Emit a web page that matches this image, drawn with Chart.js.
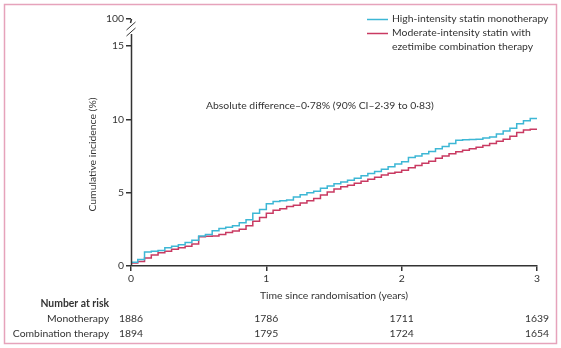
<!DOCTYPE html>
<html>
<head>
<meta charset="utf-8">
<script src="https://cdn.jsdelivr.net/npm/chart.js@4"></script>
<style>
  html, body { margin: 0; padding: 0; background: #fff; }
  #wrap { width: 561px; height: 348px; position: relative; }
</style>
</head>
<body>
<div id="wrap"><canvas id="km" width="561" height="348"></canvas></div>
<script>
// years since randomisation, sampled every 0.05
const years = [
  0.00, 0.05, 0.10, 0.15, 0.20, 0.25, 0.30, 0.35, 0.40, 0.45,
  0.50, 0.55, 0.60, 0.65, 0.70, 0.75, 0.80, 0.85, 0.90, 0.95,
  1.00, 1.05, 1.10, 1.15, 1.20, 1.25, 1.30, 1.35, 1.40, 1.45,
  1.50, 1.55, 1.60, 1.65, 1.70, 1.75, 1.80, 1.85, 1.90, 1.95,
  2.00, 2.05, 2.10, 2.15, 2.20, 2.25, 2.30, 2.35, 2.40, 2.45,
  2.50, 2.55, 2.60, 2.65, 2.70, 2.75, 2.80, 2.85, 2.90, 2.95, 3.00
];

// cumulative incidence (%)
const monoIncidence = [
  0.00, 0.25, 0.45, 0.95, 1.00, 1.05, 1.25, 1.35, 1.45, 1.60,
  1.75, 2.05, 2.15, 2.40, 2.55, 2.65, 2.75, 2.95, 3.15, 3.60,
  3.85, 4.25, 4.40, 4.45, 4.50, 4.70, 4.85, 5.00, 5.10, 5.30,
  5.45, 5.60, 5.72, 5.85, 5.98, 6.15, 6.30, 6.45, 6.60, 6.77,
  6.95, 7.10, 7.40, 7.50, 7.65, 7.80, 8.00, 8.15, 8.35, 8.58,
  8.60, 8.62, 8.65, 8.72, 8.80, 9.00, 9.20, 9.40, 9.70, 9.90, 10.05
];
const comboIncidence = [
  0.00, 0.20, 0.30, 0.55, 0.75, 0.90, 1.00, 1.15, 1.25, 1.35,
  1.50, 2.00, 2.02, 2.05, 2.15, 2.28, 2.38, 2.50, 2.75, 3.05,
  3.30, 3.60, 3.80, 3.90, 4.05, 4.15, 4.30, 4.45, 4.60, 4.84,
  5.05, 5.25, 5.40, 5.50, 5.64, 5.78, 5.92, 6.05, 6.20, 6.32,
  6.40, 6.52, 6.70, 6.85, 7.00, 7.15, 7.35, 7.50, 7.65, 7.79,
  7.90, 8.00, 8.10, 8.22, 8.36, 8.50, 8.65, 8.85, 9.10, 9.28, 9.32
];

const yTicks = [0, 5, 10, 15];
const yBreakTop = 16.84;   // stands in for the "100" label above the axis break
const riskYears = [0, 1, 2, 3];
const monoAtRisk = [1886, 1786, 1711, 1639];
const comboAtRisk = [1894, 1795, 1724, 1654];

const BLUE = '#3db7d5';
const RED = '#c93a62';
const INK = '#333333';
const FONT = 'Lato, "Open Sans", sans-serif';
const FS = 10.4;

const toPoints = (xs, ys) => xs.map((x, i) => ({ x, y: ys[i] }));

const extras = {
  id: 'extras',
  beforeDraw(chart) {
    const { ctx } = chart;
    ctx.save();
    ctx.strokeStyle = '#e6a3bb';
    ctx.lineWidth = 1.5;
    ctx.strokeRect(4.5, 4.5, 552, 339);
    ctx.restore();
  },
  afterDraw(chart) {
    const { ctx, chartArea } = chart;
    const xs = chart.scales.x;
    const ys = chart.scales.y;
    const ax = Math.round(chartArea.left) + 0.5;
    ctx.save();

    // y axis line with a break between 15 and 100
    ctx.strokeStyle = INK;
    ctx.lineWidth = 1.5;
    ctx.beginPath();
    ctx.moveTo(ax, chartArea.bottom);
    ctx.lineTo(ax, chartArea.top + 15);
    ctx.moveTo(ax, chartArea.top);
    ctx.lineTo(ax - 1, chartArea.top + 4);
    ctx.stroke();
    ctx.lineWidth = 1;
    ctx.beginPath();
    ctx.moveTo(ax - 5, chartArea.top + 11);
    ctx.lineTo(ax + 4, chartArea.top + 3);
    ctx.moveTo(ax - 5, chartArea.top + 17);
    ctx.lineTo(ax + 4, chartArea.top + 9);
    ctx.stroke();

    // y axis title
    ctx.fillStyle = INK;
    ctx.font = FS + 'px ' + FONT;
    ctx.textAlign = 'center';
    ctx.textBaseline = 'middle';
    ctx.translate(93, ys.getPixelForValue(7.6));
    ctx.rotate(-Math.PI / 2);
    ctx.fillText('Cumulative incidence (%)', 0, 0);
    ctx.setTransform(1, 0, 0, 1, 0, 0);

    // x axis title
    ctx.fillText('Time since randomisation (years)', xs.getPixelForValue(1.5), 296);

    // annotation
    ctx.textAlign = 'left';
    ctx.fillText('Absolute difference\u20130\u00b778% (90% CI\u20132\u00b739 to 0\u00b783)', 206, ys.getPixelForValue(10.9));

    // legend
    const legend = [
      { color: BLUE, lines: ['High-intensity statin monotherapy'] },
      { color: RED, lines: ['Moderate-intensity statin with', 'ezetimibe combination therapy'] }
    ];
    let ly = 19;
    legend.forEach(item => {
      ctx.strokeStyle = item.color;
      ctx.lineWidth = 1.5;
      ctx.beginPath();
      ctx.moveTo(367, ly + 0.5);
      ctx.lineTo(388, ly + 0.5);
      ctx.stroke();
      item.lines.forEach(t => {
        ctx.fillText(t, 392, ly);
        ly += 14;
      });
    });

    // number at risk table
    ctx.font = 'bold ' + FS + 'px ' + FONT;
    ctx.textAlign = 'right';
    ctx.fillText('Number at risk', 109, 304);
    ctx.font = FS + 'px ' + FONT;
    ctx.fillText('Monotherapy', 109, 319);
    ctx.fillText('Combination therapy', 109, 334);
    ctx.textAlign = 'center';
    riskYears.forEach((yr, i) => {
      const px = xs.getPixelForValue(yr);
      ctx.fillText(String(monoAtRisk[i]), px, 319);
      ctx.fillText(String(comboAtRisk[i]), px, 334);
    });
    ctx.restore();
  }
};

new Chart(document.getElementById('km'), {
  type: 'line',
  data: {
    datasets: [
      {
        label: 'High-intensity statin monotherapy',
        data: toPoints(years, monoIncidence),
        borderColor: BLUE,
        borderWidth: 1.5,
        pointRadius: 0,
        stepped: 'after',
        fill: false
      },
      {
        label: 'Moderate-intensity statin with ezetimibe combination therapy',
        data: toPoints(years, comboIncidence),
        borderColor: RED,
        borderWidth: 1.5,
        pointRadius: 0,
        stepped: 'after',
        fill: false
      }
    ]
  },
  options: {
    responsive: false,
    animation: false,
    layout: { padding: { left: 0, right: 24, top: 19, bottom: 0 } },
    plugins: {
      legend: { display: false },
      tooltip: { enabled: false }
    },
    scales: {
      x: {
        type: 'linear',
        min: 0,
        max: 3,
        afterBuildTicks: (scale) => { scale.ticks = riskYears.map(v => ({ value: v })); },
        afterFit: (scale) => { scale.height = 82; },
        ticks: { color: INK, font: { family: FONT, size: FS }, padding: 1, maxRotation: 0 },
        grid: { display: true, drawOnChartArea: false, drawTicks: true, tickLength: 5, color: INK, lineWidth: 1.5 },
        border: { display: true, color: INK, width: 1.5 }
      },
      y: {
        type: 'linear',
        min: 0,
        max: yBreakTop,
        afterBuildTicks: (scale) => { scale.ticks = yTicks.concat([yBreakTop]).map(v => ({ value: v })); },
        afterFit: (scale) => { scale.width = 131; },
        ticks: {
          color: INK,
          font: { family: FONT, size: FS },
          padding: 2,
          callback: (v) => (v === yBreakTop ? '100' : String(v))
        },
        grid: { display: true, drawOnChartArea: false, drawTicks: true, tickLength: 5, color: INK, lineWidth: 1.5 },
        border: { display: false }
      }
    }
  },
  plugins: [extras]
});
</script>
</body>
</html>
